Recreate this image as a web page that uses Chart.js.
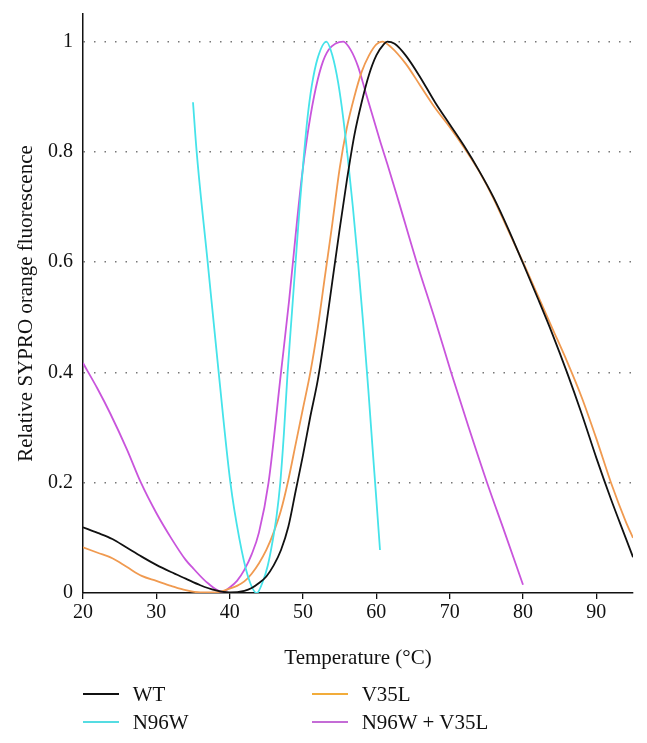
<!DOCTYPE html>
<html>
<head>
<meta charset="utf-8">
<script src="https://cdn.jsdelivr.net/npm/chart.js@4.4.0/dist/chart.umd.min.js"></script>
<style>
  html, body { margin: 0; padding: 0; background: #fff; }
  #wrap { position: relative; width: 647px; height: 743px; }
  #legend { position: absolute; left: 0; top: 0; width: 647px; height: 743px; pointer-events: none;
            font-family: 'Liberation Serif', 'DejaVu Serif', serif; font-size: 21px; color: #111; }
  .item { position: absolute; display: flex; align-items: center; height: 24px; line-height: 24px; }
  .swatch { width: 36px; height: 2px; margin-right: 14px; }
</style>
</head>
<body>
<div id="wrap">
  <canvas id="chart" width="647" height="743"></canvas>
  <div id="legend"></div>
</div>
<script>
// Melting curves (temperature in °C, relative fluorescence)
const wtTemp  = [20, 22, 24, 26, 28, 30, 32, 34, 36, 38, 40, 42, 43, 44, 45, 46, 47, 48, 49, 50, 51, 52, 53, 54, 55, 56, 57, 58, 59, 60, 61, 61.5, 62.5, 64, 66, 68, 70, 72, 74, 76, 78, 80, 82, 84, 86, 88, 90, 92, 94, 95];
const wtValue = [0.119, 0.109, 0.098, 0.082, 0.066, 0.051, 0.038, 0.026, 0.014, 0.005, 0.001, 0.004, 0.009, 0.018, 0.03, 0.05, 0.078, 0.12, 0.185, 0.25, 0.32, 0.385, 0.47, 0.565, 0.66, 0.75, 0.83, 0.89, 0.94, 0.975, 0.995, 1, 0.996, 0.975, 0.935, 0.89, 0.85, 0.81, 0.766, 0.717, 0.66, 0.598, 0.535, 0.47, 0.4, 0.325, 0.245, 0.17, 0.1, 0.065];

const v35lTemp  = [20, 22, 24, 26, 28, 30, 32, 34, 36, 38, 40, 41, 42, 43, 44, 45, 46, 47, 48, 49, 50, 51, 52, 53, 54, 55, 56, 57, 58, 59, 60, 60.8, 62, 64, 66, 68, 70, 72, 74, 76, 78, 80, 82, 84, 86, 88, 90, 92, 94, 95];
const v35lValue = [0.083, 0.073, 0.063, 0.047, 0.031, 0.022, 0.013, 0.005, 0.001, 0.001, 0.008, 0.013, 0.021, 0.035, 0.054, 0.078, 0.11, 0.15, 0.205, 0.27, 0.335, 0.4, 0.48, 0.575, 0.67, 0.77, 0.845, 0.9, 0.945, 0.975, 0.995, 1, 0.99, 0.96, 0.92, 0.88, 0.845, 0.807, 0.765, 0.715, 0.657, 0.6, 0.54, 0.48, 0.42, 0.355, 0.28, 0.2, 0.13, 0.1];

const n96wTemp  = [35, 35.5, 37, 38.5, 40.1, 41.3, 42.5, 43.7, 44.5, 45.2, 45.8, 46.4, 46.9, 47.4, 47.9, 48.5, 49.1, 49.6, 50.1, 50.6, 51.2, 52, 53.2, 54, 54.8, 55.5, 56.1, 56.8, 57.5, 58.2, 58.9, 59.5, 60, 60.5];
const n96wValue = [0.89, 0.8, 0.6, 0.4, 0.2, 0.1, 0.03, 0, 0.02, 0.05, 0.09, 0.14, 0.2, 0.29, 0.4, 0.51, 0.62, 0.71, 0.79, 0.86, 0.92, 0.97, 1, 0.975, 0.925, 0.86, 0.79, 0.7, 0.6, 0.49, 0.37, 0.26, 0.17, 0.078];

const dblTemp  = [20, 22, 23.7, 26, 27.9, 30, 32, 34, 35, 37, 39, 40, 41, 42, 43, 44, 45.3, 47, 48.1, 49, 49.8, 50.6, 51.5, 52.5, 53.5, 55.5, 56.5, 57.5, 58.5, 59.5, 60.5, 61.5, 63, 65.5, 67.9, 70.2, 72.6, 75.1, 77.5, 80];
const dblValue = [0.417, 0.37, 0.326, 0.26, 0.2, 0.145, 0.1, 0.06, 0.045, 0.018, 0.002, 0.01, 0.022, 0.042, 0.07, 0.11, 0.2, 0.4, 0.53, 0.65, 0.75, 0.83, 0.9, 0.955, 0.985, 1, 0.985, 0.955, 0.91, 0.865, 0.82, 0.778, 0.712, 0.6, 0.5, 0.4, 0.3, 0.2, 0.11, 0.015];

const seriesLabels = ['WT', 'N96W', 'V35L', 'N96W + V35L'];
const lineColors   = ['#111111', '#45e3ea', '#f09a50', '#c955dc'];
const legendColors = ['#111111', '#55dce2', '#f2ac3a', '#c46cd6'];
const xTicks = [20, 30, 40, 50, 60, 70, 80, 90];
const yTicks = [0, 0.2, 0.4, 0.6, 0.8, 1];

const fontFamily = "'Liberation Serif', 'DejaVu Serif', serif";

function toPoints(temps, values) {
  return temps.map((t, i) => ({ x: t, y: values[i] }));
}

const seriesData = [
  toPoints(wtTemp, wtValue),
  toPoints(n96wTemp, n96wValue),
  toPoints(v35lTemp, v35lValue),
  toPoints(dblTemp, dblValue)
];

const ctx = document.getElementById('chart').getContext('2d');
new Chart(ctx, {
  type: 'line',
  data: {
    datasets: seriesData.map((pts, i) => ({
      label: seriesLabels[i],
      data: pts,
      borderColor: lineColors[i],
      backgroundColor: lineColors[i],
      borderWidth: 1.8,
      pointRadius: 0,
      fill: false,
      cubicInterpolationMode: 'monotone'
    }))
  },
  options: {
    responsive: false,
    animation: false,
    layout: { padding: { top: 14, right: 14, left: 0, bottom: 60 } },
    plugins: {
      legend: { display: false },
      tooltip: { enabled: false }
    },
    scales: {
      x: {
        type: 'linear',
        min: 20,
        max: 95,
        afterBuildTicks: scale => { scale.ticks = xTicks.map(v => ({ value: v })); },
        afterFit: scale => { scale.height = 90; },
        ticks: {
          color: '#111',
          font: { family: fontFamily, size: 20 },
          padding: 2,
          maxRotation: 0
        },
        grid: { drawOnChartArea: false, drawTicks: true, tickLength: 6, color: '#111', lineWidth: 1.3 },
        border: { color: '#111', width: 1.5 },
        title: {
          display: true,
          text: 'Temperature (°C)',
          color: '#111',
          font: { family: fontFamily, size: 21 },
          padding: { top: 0, bottom: 12 }
        }
      },
      y: {
        min: 0,
        max: 1.05,
        afterBuildTicks: scale => { scale.ticks = yTicks.map(v => ({ value: v })); },
        afterFit: scale => {
          scale.width = 83;
          // the top label sits below the axis end, so no extra room is needed
          scale.paddingTop = 0;
          scale.paddingBottom = 0;
        },
        ticks: {
          color: '#111',
          font: { family: fontFamily, size: 20 },
          padding: 10,
          callback: v => (v === 0 || v === 1) ? String(v) : v.toFixed(1)
        },
        grid: {
          drawTicks: false,
          color: c => (c.tick && c.tick.value === 0) ? 'rgba(0,0,0,0)' : '#777',
          lineWidth: 1.5
        },
        border: { color: '#111', width: 1.5, dash: [1.5, 9] },
        title: {
          display: true,
          text: 'Relative SYPRO orange fluorescence',
          color: '#111',
          font: { family: fontFamily, size: 21 },
          padding: { top: 14, bottom: 0 }
        }
      }
    }
  }
});

// Legend in two columns under the plot
const legendEl = document.getElementById('legend');
const legendPos = [[82.7, 682], [82.7, 709.7], [311.7, 682], [311.7, 709.7]];
seriesLabels.forEach((label, i) => {
  const item = document.createElement('div');
  item.className = 'item';
  item.style.left = legendPos[i][0] + 'px';
  item.style.top = legendPos[i][1] + 'px';
  const sw = document.createElement('span');
  sw.className = 'swatch';
  sw.style.background = legendColors[i];
  const txt = document.createElement('span');
  txt.textContent = label;
  item.appendChild(sw);
  item.appendChild(txt);
  legendEl.appendChild(item);
});
</script>
</body>
</html>
